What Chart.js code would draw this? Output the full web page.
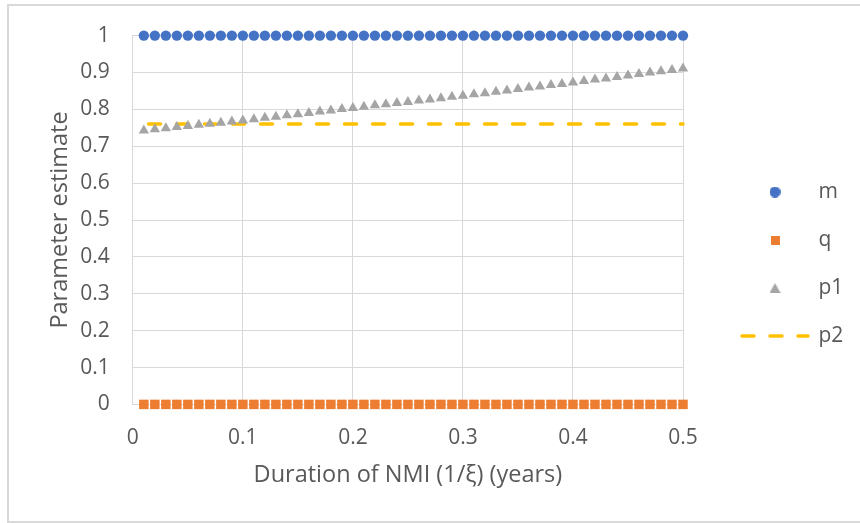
<!DOCTYPE html>
<html>
<head>
<meta charset="utf-8">
<script src="https://cdn.jsdelivr.net/npm/chart.js@4.4.1/dist/chart.umd.min.js"></script>
<style>
  html, body { margin: 0; padding: 0; background: #ffffff; overflow: hidden; }
  #frame { position: absolute; left: 7px; top: 4px; width: 900px; height: 515px; border: 2px solid #d9d9d9; }
  #c { position: absolute; left: 0; top: 0; }
</style>
</head>
<body>
<div id="frame"></div>
<canvas id="c" width="860" height="523"></canvas>
<script>
// ---- data ----
const xValues = [0.01, 0.02, 0.03, 0.04, 0.05, 0.06, 0.07, 0.08, 0.09, 0.10,
                 0.11, 0.12, 0.13, 0.14, 0.15, 0.16, 0.17, 0.18, 0.19, 0.20,
                 0.21, 0.22, 0.23, 0.24, 0.25, 0.26, 0.27, 0.28, 0.29, 0.30,
                 0.31, 0.32, 0.33, 0.34, 0.35, 0.36, 0.37, 0.38, 0.39, 0.40,
                 0.41, 0.42, 0.43, 0.44, 0.45, 0.46, 0.47, 0.48, 0.49, 0.50];
const mValues  = [1, 1, 1, 1, 1, 1, 1, 1, 1, 1,
                  1, 1, 1, 1, 1, 1, 1, 1, 1, 1,
                  1, 1, 1, 1, 1, 1, 1, 1, 1, 1,
                  1, 1, 1, 1, 1, 1, 1, 1, 1, 1,
                  1, 1, 1, 1, 1, 1, 1, 1, 1, 1];
const qValues  = [0, 0, 0, 0, 0, 0, 0, 0, 0, 0,
                  0, 0, 0, 0, 0, 0, 0, 0, 0, 0,
                  0, 0, 0, 0, 0, 0, 0, 0, 0, 0,
                  0, 0, 0, 0, 0, 0, 0, 0, 0, 0,
                  0, 0, 0, 0, 0, 0, 0, 0, 0, 0];
const p1Values = [0.743, 0.746, 0.749, 0.752, 0.755, 0.758, 0.761, 0.764, 0.767, 0.770,
                  0.773, 0.777, 0.780, 0.784, 0.787, 0.790, 0.794, 0.797, 0.801, 0.804,
                  0.807, 0.811, 0.814, 0.817, 0.820, 0.824, 0.827, 0.830, 0.834, 0.837,
                  0.841, 0.844, 0.848, 0.851, 0.855, 0.859, 0.862, 0.866, 0.869, 0.873,
                  0.877, 0.881, 0.884, 0.888, 0.892, 0.896, 0.900, 0.903, 0.907, 0.911];
const p2Values = [0.76, 0.76, 0.76, 0.76, 0.76, 0.76, 0.76, 0.76, 0.76, 0.76,
                  0.76, 0.76, 0.76, 0.76, 0.76, 0.76, 0.76, 0.76, 0.76, 0.76,
                  0.76, 0.76, 0.76, 0.76, 0.76, 0.76, 0.76, 0.76, 0.76, 0.76,
                  0.76, 0.76, 0.76, 0.76, 0.76, 0.76, 0.76, 0.76, 0.76, 0.76,
                  0.76, 0.76, 0.76, 0.76, 0.76, 0.76, 0.76, 0.76, 0.76, 0.76];
const seriesNames = ['m', 'q', 'p1', 'p2'];
const xTickLabels = ['0', '0.1', '0.2', '0.3', '0.4', '0.5'];
const yTickLabels = ['0', '0.1', '0.2', '0.3', '0.4', '0.5', '0.6', '0.7', '0.8', '0.9', '1'];
const xAxisTitle = 'Duration of NMI (1/ξ) (years)';
const yAxisTitle = 'Parameter estimate';

// ---- styles ----
const TEXT = '#595959';
const GRID = '#d9d9d9';
const FONT = 'Open Sans';
const COLORS = ['#4472C4', '#ED7D31', '#A5A5A5', '#FFC000'];
const TICK_FONT = 21;
const TITLE_FONT = 23.5;
const LEGEND_FONT = 21;
const LEGEND_PAD = 48 - LEGEND_FONT;

function pts(ys) { return xValues.map((x, i) => ({ x: x, y: ys[i] })); }

// legend icons (pointStyleWidth would stretch the built-in shapes)
function makeIcon(kind, color, w, h) {
  const cv = document.createElement('canvas');
  cv.width = w; cv.height = h;
  const g = cv.getContext('2d');
  g.fillStyle = color;
  g.beginPath();
  if (kind === 'circle') { g.arc(w / 2, h / 2, w / 2, 0, Math.PI * 2); }
  else if (kind === 'triangle') { g.moveTo(w / 2, 0); g.lineTo(w, h); g.lineTo(0, h); g.closePath(); }
  else { g.rect(0, 0, w, h); }
  g.fill();
  return cv;
}
const legendStyles = [
  makeIcon('circle', COLORS[0], 11, 11),
  makeIcon('rect', COLORS[1], 9, 9),
  makeIcon('triangle', COLORS[2], 11, 10),
  'line'
];

const legendPlacement = {
  id: 'legendPlacement',
  beforeUpdate(chart) {
    const lg = chart.legend;
    if (lg && !lg._patched) {
      const fit = lg.fit;
      lg.fit = function () { fit.call(this); this.width = 177; };
      lg._patched = true;
    }
  },
  afterLayout(chart) {
    const lg = chart.legend;
    lg.left = 742 - LEGEND_PAD; lg.right = 860; lg.width = lg.right - lg.left;
    lg.top = 5; lg.bottom = 523; lg.height = 518;
  }
};

const ctx = document.getElementById('c').getContext('2d');
new Chart(ctx, {
  type: 'scatter',
  data: {
    datasets: [
      { label: seriesNames[0], data: pts(mValues), pointStyle: 'circle', pointRadius: 5.2,
        backgroundColor: COLORS[0], borderColor: COLORS[0], pointBorderWidth: 0 },
      { label: seriesNames[1], data: pts(qValues), pointStyle: 'rect', pointRadius: 6.7,
        backgroundColor: COLORS[1], borderColor: COLORS[1], pointBorderWidth: 0 },
      { label: seriesNames[2], data: pts(p1Values), pointStyle: 'triangle', pointRadius: 6,
        backgroundColor: COLORS[2], borderColor: COLORS[2], pointBorderWidth: 0 },
      { label: seriesNames[3], data: pts(p2Values), showLine: true, pointRadius: 0,
        borderColor: COLORS[3], backgroundColor: COLORS[3], borderWidth: 3.5,
        borderDash: [12, 16], borderDashOffset: 23.3, borderCapStyle: 'round' }
    ]
  },
  options: {
    responsive: false,
    animation: false,
    events: [],
    devicePixelRatio: 1,
    clip: false,
    layout: { padding: { left: 46, top: 33.5, right: 0, bottom: 34 } },
    scales: {
      x: {
        type: 'linear', min: 0, max: 0.5,
        ticks: { stepSize: 0.1, padding: 21, color: TEXT, font: { family: FONT, size: TICK_FONT },
                 maxRotation: 0, autoSkip: false, callback: (v, i) => xTickLabels[i] },
        grid: { color: GRID, lineWidth: 1, drawTicks: false },
        border: { color: GRID, width: 1 },
        title: { display: true, text: xAxisTitle, color: TEXT, font: { family: FONT, size: TITLE_FONT },
                 padding: { top: -10.8, bottom: 0 } }
      },
      y: {
        type: 'linear', min: 0, max: 1,
        ticks: { stepSize: 0.1, padding: 23, color: TEXT, font: { family: FONT, size: TICK_FONT },
                 autoSkip: false, callback: (v, i) => yTickLabels[i] },
        grid: { color: GRID, lineWidth: 1, drawTicks: false },
        border: { color: GRID, width: 1 },
        title: { display: true, text: yAxisTitle, color: TEXT, font: { family: FONT, size: TITLE_FONT },
                 padding: { top: 0, bottom: -16.9 } }
      }
    },
    plugins: {
      tooltip: { enabled: false },
      legend: {
        position: 'right',
        align: 'center',
        labels: {
          usePointStyle: true,
          pointStyleWidth: 66,
          boxHeight: 8,
          padding: LEGEND_PAD,
          color: TEXT,
          font: { family: FONT, size: LEGEND_FONT },
          generateLabels: (chart) => chart.data.datasets.map((ds, i) => ({
            text: ds.label,
            datasetIndex: i,
            hidden: false,
            fillStyle: ds.backgroundColor,
            strokeStyle: ds.borderColor,
            lineWidth: i === 3 ? 3.5 : 0,
            lineDash: ds.borderDash || [],
            lineDashOffset: 0,
            lineCap: 'round',
            pointStyle: legendStyles[i],
            rotation: 0,
            fontColor: TEXT
          }))
        }
      }
    }
  },
  plugins: [legendPlacement]
});
</script>
</body>
</html>
